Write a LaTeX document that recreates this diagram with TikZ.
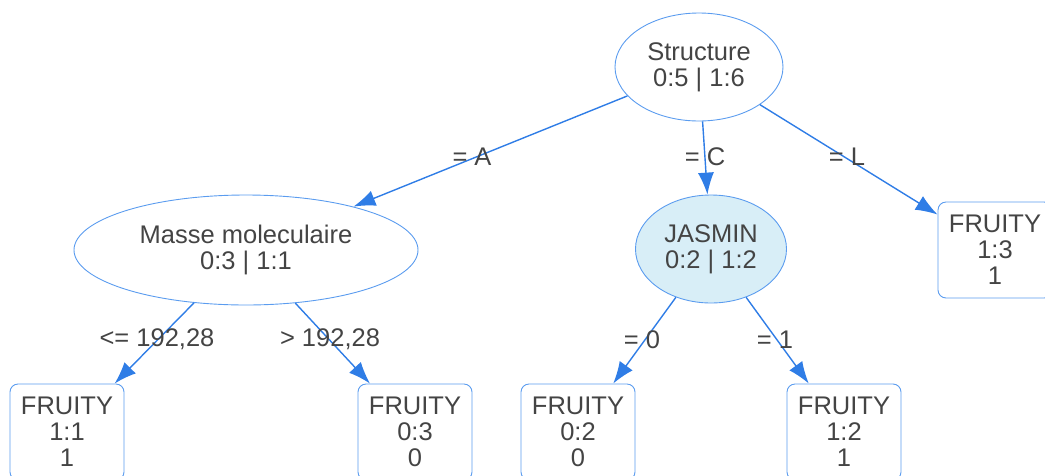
\documentclass[tikz,border=0pt]{standalone}
\usepackage{fontspec}
\setmainfont{Liberation Sans}
\usetikzlibrary{arrows.meta,shapes.geometric}
\definecolor{txt}{HTML}{444444}
\definecolor{nodeb}{HTML}{5B9CEF}
\definecolor{edgec}{HTML}{2F7DE6}
\definecolor{jfill}{HTML}{D8EEF7}
\begin{document}
\begin{tikzpicture}[x=1pt,y=-1pt,
  every node/.style={text=txt, font=\fontsize{25.5}{26}\selectfont, align=center, inner sep=0pt},
  split/.style={ellipse, draw=nodeb, line width=0.9pt},
  leaf/.style={rectangle, rounded corners=8pt, draw=nodeb, line width=0.9pt, minimum width=114pt, minimum height=96pt},
  conn/.style={draw=edgec, line width=1.4pt, -{Latex[length=22pt,width=16pt]}},
  lbl/.style={}]
\useasboundingbox (0,0) rectangle (1045,475);
\clip (0,0) rectangle (1045,475);
\node[split, minimum width=168pt, minimum height=108pt] (S) at (699,67) {Structure\\0:5 | 1:6};
\node[split, minimum width=344pt, minimum height=110pt] (M) at (246,250) {Masse moleculaire\\0:3 | 1:1};
\node[split, fill=jfill, minimum width=151pt, minimum height=108pt] (J) at (711,249) {JASMIN\\0:2 | 1:2};
\node[leaf] (L) at (995,250) {FRUITY\\1:3\\1};
\node[leaf] (F1) at (67,432) {FRUITY\\1:1\\1};
\node[leaf] (F2) at (415,432) {FRUITY\\0:3\\0};
\node[leaf] (F3) at (578,432) {FRUITY\\0:2\\0};
\node[leaf] (F4) at (844,432) {FRUITY\\1:2\\1};
\draw[conn] (S) -- (M);
\draw[conn] (S) -- (J);
\draw[conn] (S) -- (L);
\draw[conn] (M) -- (F1);
\draw[conn] (M) -- (F2);
\draw[conn] (J) -- (F3);
\draw[conn] (J) -- (F4);
\node[lbl] (la) at (472,157) {= A};
\node[lbl] (lc) at (705,157) {= C};
\node[lbl] (ll) at (847,157) {= L};
\node[lbl] (l1) at (157,339) {<= 192,28};
\node[lbl] (l2) at (330,339) {> 192,28};
\node[lbl] (l3) at (642,340) {= 0};
\node[lbl] (l4) at (775,340) {= 1};
\end{tikzpicture}
\end{document}
